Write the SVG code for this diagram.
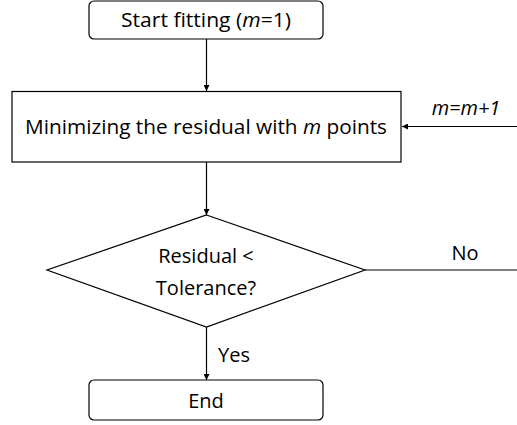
<svg xmlns="http://www.w3.org/2000/svg" width="517" height="425" viewBox="0 0 517 425">
<style>
.n{fill:#fff;stroke:#000;stroke-width:1.2}
.c{fill:none;stroke:#000;stroke-width:1.2}
text{font-family:"Open Sans","Noto Sans","Liberation Sans",sans-serif;font-size:20px;fill:#000}
.m{text-anchor:middle}
</style>
<defs>
<marker id="ah" viewBox="0 0 10 10" refX="10" refY="5" markerWidth="6" markerHeight="6" orient="auto" markerUnits="userSpaceOnUse">
<path d="M0,0 L10,5 L0,10 z" fill="#000"/>
</marker>
</defs>
<g id="connectors">
<line class="c" x1="206.5" y1="39" x2="206.5" y2="91" marker-end="url(#ah)"/>
<line class="c" x1="206.5" y1="162" x2="206.5" y2="215" marker-end="url(#ah)"/>
<line class="c" x1="206.5" y1="327" x2="206.5" y2="380" marker-end="url(#ah)"/>
<line class="c" x1="365" y1="270" x2="517" y2="270"/>
<line class="c" x1="517" y1="126.5" x2="402" y2="126.5" marker-end="url(#ah)"/>
<text x="465" y="260" class="m">No</text>
<text x="234" y="362" class="m">Yes</text>
<text x="466" y="115" class="m" font-style="italic">m=m+1</text>
</g>
<g id="start">
<rect class="n" x="89" y="1" width="234" height="38" rx="5"/>
<text x="206" y="27" class="m" textLength="170" lengthAdjust="spacingAndGlyphs">Start fitting (<tspan font-style="italic">m</tspan>=1)</text>
</g>
<g id="process">
<rect class="n" x="12" y="91.5" width="389" height="70.5"/>
<text x="206" y="134" class="m" textLength="362" lengthAdjust="spacingAndGlyphs">Minimizing the residual with <tspan font-style="italic">m</tspan> points</text>
</g>
<g id="decision">
<polygon class="n" points="206.5,215 365,270 206.5,327 47,270"/>
<text x="206" y="263" class="m">Residual &lt;</text>
<text x="206" y="295" class="m">Tolerance?</text>
</g>
<g id="end">
<rect class="n" x="89" y="380" width="234" height="40" rx="5"/>
<text x="206" y="408" class="m">End</text>
</g>
</svg>
